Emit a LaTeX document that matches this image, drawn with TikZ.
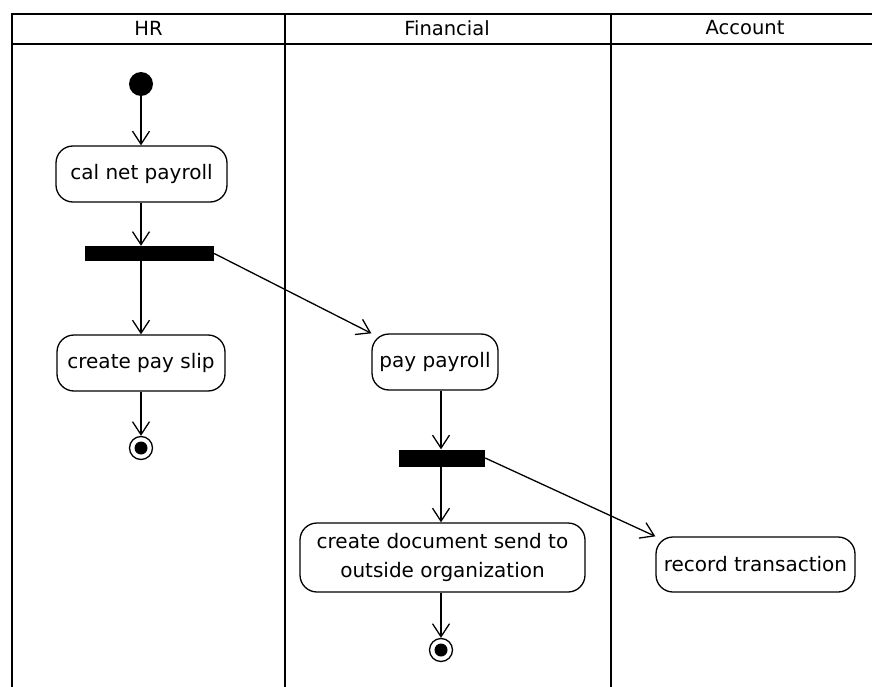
\documentclass[tikz,border=0pt]{standalone}
\usepackage{fontspec}
\setmainfont{DejaVu Sans}
\usetikzlibrary{arrows.meta}
\begin{document}
\begin{tikzpicture}[x=1pt,y=-1pt,
  frame/.style={line width=2.3pt,line cap=rect},
  act/.style={draw,line width=1.3pt,rounded corners=17pt,align=center,
    font=\fontsize{20}{29}\selectfont,inner sep=0pt},
  bar/.style={fill=black,draw=none,inner sep=0pt},
  flow/.style={line width=1.3pt,-{Straight Barb[length=13pt,width=17pt,line width=1.3pt]}},
  lane/.style={font=\fontsize{19.5}{22}\selectfont},
  startnode/.style={circle,fill=black,inner sep=0pt,minimum size=24pt},
  endnode/.style={circle,draw,line width=1.3pt,inner sep=0pt,minimum size=23pt,
    path picture={\fill (path picture bounding box.center) circle (6.5pt);}}]
\useasboundingbox (0,0) rectangle (872,687);
\fill[white] (0,0) rectangle (872,687);

% swimlane frame
\draw[frame] (12,687) -- (12,14) -- (872,14);
\draw[frame] (12,44) -- (872,44);
\draw[frame] (285,14) -- (285,687);
\draw[frame] (611,14) -- (611,687);

% lane titles
\node[lane] (hr)  at (148.5,28) {HR};
\node[lane] (fin) at (447,28) {Financial};
\node[lane] (acc) at (745,28) {Account};

% HR lane
\node[startnode] (start) at (141,84) {};
\node[act,minimum width=171pt,minimum height=56pt] (calc) at (141.5,174) {cal net payroll};
\node[bar,minimum width=129pt,minimum height=15pt] (fork1) at (149.5,253.5) {};
\node[act,minimum width=168pt,minimum height=56pt] (slip) at (141,363) {create pay slip};
\node[endnode] (end1) at (141,448) {};

% Financial lane
\node[act,minimum width=126pt,minimum height=56pt] (pay) at (435,362) {pay payroll};
\node[bar,minimum width=86pt,minimum height=17pt] (fork2) at (442,458) {};
\node[act,minimum width=285pt,minimum height=69pt] (doc) at (442.5,557.5)
  {create document send to\\outside organization};
\node[endnode] (end2) at (441,650) {};

% Account lane
\node[act,minimum width=199pt,minimum height=55pt] (rec) at (755.5,564.5) {record transaction};

% control flows
\draw[flow] (start) -- (calc.north -| start);
\draw[flow] (calc.south -| start) -- (fork1.north -| start);
\draw[flow] (fork1.south -| start) -- (slip.north -| start);
\draw[flow] (slip.south -| start) -- (end1);
\draw[flow] (fork1.east) -- (pay.north west);
\draw[flow] (pay.south -| end2) -- (fork2.north -| end2);
\draw[flow] (fork2.south -| end2) -- (doc.north -| end2);
\draw[flow] (doc.south -| end2) -- (end2);
\draw[flow] (fork2.east) -- (rec.north west);
\end{tikzpicture}
\end{document}
